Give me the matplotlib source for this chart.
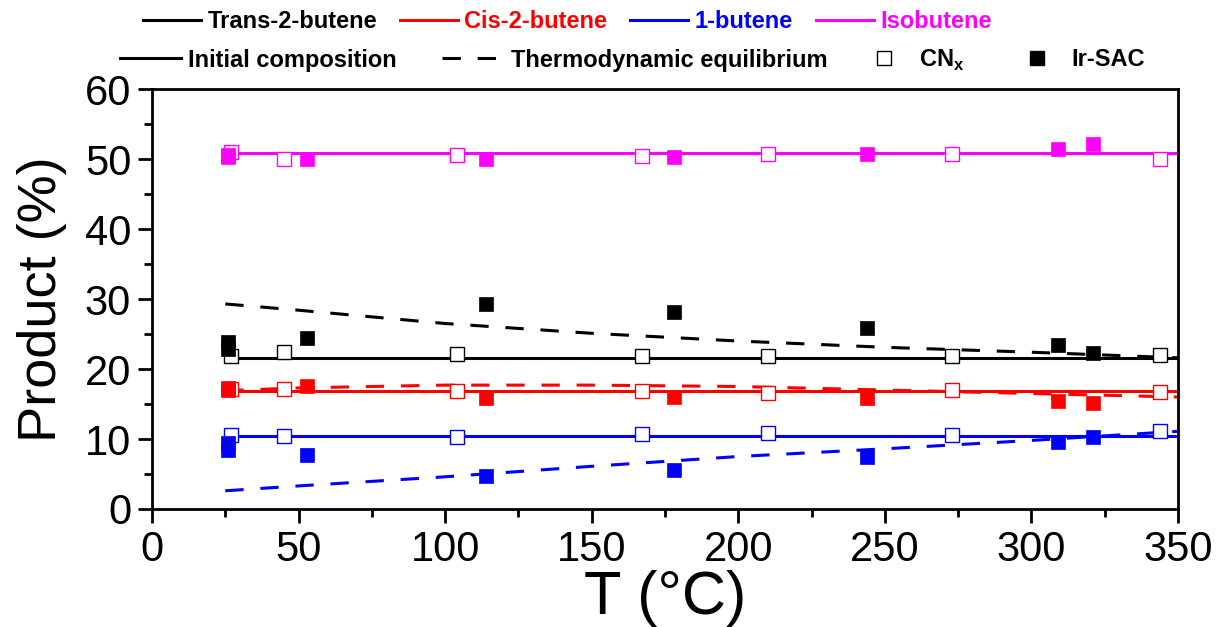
import matplotlib
matplotlib.use("Agg")
import matplotlib.pyplot as plt
from matplotlib.lines import Line2D
from matplotlib.ticker import MultipleLocator

plt.rcParams['font.family'] = ['Liberation Sans', 'DejaVu Sans']
plt.rcParams['mathtext.fontset'] = 'custom'
plt.rcParams['mathtext.rm'] = 'Liberation Sans:bold'

# species order: trans-2-butene, cis-2-butene, 1-butene, isobutene
species = ['Trans-2-butene', 'Cis-2-butene', '1-butene', 'Isobutene']
colors = ['black', 'red', 'blue', 'magenta']

# initial composition (horizontal reference lines)
init_T = [27, 350]
init_vals = [21.6, 16.9, 10.5, 50.8]

# thermodynamic equilibrium (no isobutene curve drawn)
eq_T = [25, 50, 100, 150, 200, 250, 300, 350]
eq_trans = [29.3, 28.4, 26.5, 25.1, 24.0, 23.1, 22.4, 21.6]
eq_cis = [16.9, 17.3, 17.7, 17.7, 17.5, 17.0, 16.5, 16.0]
eq_1but = [2.6, 3.3, 4.6, 6.1, 7.5, 8.6, 9.8, 11.1]

# CNx catalyst
cn_T = [27, 45, 104, 167, 210, 273, 344]
cn_trans = [21.9, 22.5, 22.1, 21.8, 21.9, 21.9, 22.0]
cn_cis = [17.1, 17.1, 16.9, 16.9, 16.6, 17.0, 16.7]
cn_1but = [10.6, 10.4, 10.3, 10.7, 10.8, 10.6, 11.1]
cn_iso = [51.0, 50.0, 50.6, 50.5, 50.7, 50.7, 50.0]

# Ir-SAC catalyst
ir_T = [26, 26, 53, 114, 178, 244, 309, 321]
ir_trans = [23.9, 22.9, 24.5, 29.3, 28.2, 25.9, 23.5, 22.3]
ir_cis = [17.3, 17.0, 17.6, 15.9, 16.05, 15.8, 15.5, 15.1]
ir_1but = [9.4, 8.4, 7.7, 4.7, 5.6, 7.5, 9.6, 10.3]
ir_iso = [50.6, 50.3, 49.95, 49.95, 50.3, 50.7, 51.4, 52.2]

DASH = (0, (6, 5.5))

fig = plt.figure(figsize=(12.19, 6.27), dpi=100)
ax = fig.add_axes([0.1247, 0.1882, 0.8417, 0.6698])

# lines
for val, c in zip(init_vals, colors):
    ax.plot(init_T, [val, val], color=c, lw=2.2, zorder=2)
for vals, c in zip([eq_trans, eq_cis, eq_1but], colors[:3]):
    ax.plot(eq_T, vals, color=c, lw=2.2, ls=DASH, zorder=2)

# markers
for vals, c in zip([cn_trans, cn_cis, cn_1but, cn_iso], colors):
    ax.plot(cn_T, vals, ls='none', marker='s', ms=9.5, mfc='white', mec=c,
            mew=1.0, zorder=3)
for vals, c in zip([ir_trans, ir_cis, ir_1but, ir_iso], colors):
    ax.plot(ir_T, vals, ls='none', marker='s', ms=9.5, mfc=c, mec=c,
            mew=0.5, zorder=4)

ax.set_xlim(0, 350)
ax.set_ylim(0, 60)
ax.xaxis.set_major_locator(MultipleLocator(50))
ax.xaxis.set_minor_locator(MultipleLocator(25))
ax.yaxis.set_major_locator(MultipleLocator(10))
ax.yaxis.set_minor_locator(MultipleLocator(5))
ax.tick_params(which='major', length=10, width=2, labelsize=30, pad=5)
ax.tick_params(which='minor', length=6, width=2)
ax.tick_params(axis='y', which='major', pad=5)
for s in ax.spines.values():
    s.set_linewidth(2)

ax.set_xlabel('T (°C)', fontsize=44, labelpad=0)
ax.set_ylabel('Product (%)', fontsize=39, labelpad=13)

legend_kw = dict(loc='center left', frameon=False, borderpad=0, borderaxespad=0,
                 prop={'size': 17, 'weight': 'bold'})

# legend row 1: species colours
h1 = [Line2D([], [], color=c, lw=2.2) for c in colors]
fig.legend(h1, species, bbox_to_anchor=(143 / 1219, 1 - 22 / 627), ncol=4,
           handlelength=2.46, handletextpad=0.27, columnspacing=0.97,
           labelcolor=colors, **legend_kw)

# legend row 2: line styles
h2 = [Line2D([], [], color='black', lw=2.2),
      Line2D([], [], color='black', lw=2.2, ls=DASH)]
fig.legend(h2, ['Initial composition', 'Thermodynamic equilibrium'],
           bbox_to_anchor=(120 / 1219, 1 - 60 / 627), ncol=2,
           handlelength=2.6, handletextpad=0.3, columnspacing=1.9, **legend_kw)

# legend row 2: marker meaning
h3 = [Line2D([], [], ls='none', marker='s', ms=9.5, mfc='white', mec='black', mew=1.0),
      Line2D([], [], ls='none', marker='s', ms=9.5, mfc='black', mec='black')]
fig.legend(h3, [r'CN$_\mathregular{x}$', 'Ir-SAC'],
           bbox_to_anchor=(872 / 1219, 1 - 60 / 627), ncol=2,
           handlelength=1.0, handletextpad=0.97, columnspacing=2.6, **legend_kw)

fig.savefig('out.png', dpi=100)
